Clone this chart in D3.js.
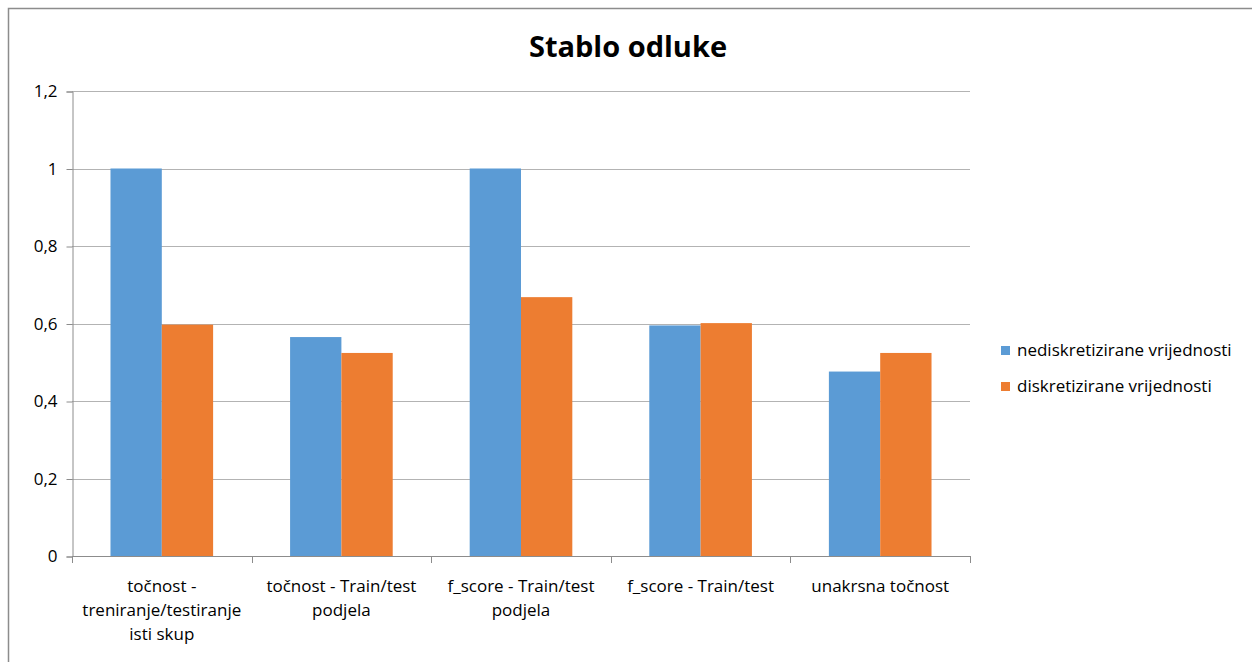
<!DOCTYPE html>
<html>
<head>
<meta charset="utf-8">
<script src="https://cdn.jsdelivr.net/npm/d3@7"></script>
<style>
  body { margin: 0; background: #fff; }
  svg text { font-family: "Open Sans", sans-serif; fill: #000; }
</style>
</head>
<body>
<svg id="chart"></svg>
<script>
// chart data
const categories = [
  ["točnost -", "treniranje/testiranje", "isti skup"],
  ["točnost - Train/test", "podjela"],
  ["f_score - Train/test", "podjela"],
  ["f_score - Train/test"],
  ["unakrsna točnost"]
];
const seriesNames = ["nediskretizirane vrijednosti", "diskretizirane vrijednosti"];
const nediskretizirane = [1.0, 0.565, 1.0, 0.595, 0.476];
const diskretizirane = [0.597, 0.524, 0.668, 0.601, 0.524];
const yTicks = [0, 0.2, 0.4, 0.6, 0.8, 1, 1.2];
const colors = ["#5b9bd5", "#ed7d31"];

const width = 1252, height = 662;
const plot = { left: 72, right: 970, top: 91, bottom: 556 };

const svg = d3.select('#chart').attr('width', width).attr('height', height);

// outer frame: only top and left edges are visible
svg.append('path')
   .attr('d', `M8.5,${height} V8.5 H${width}`)
   .attr('fill', 'none').attr('stroke', '#8c8c8c').attr('stroke-width', 1.5);

svg.append('text')
   .attr('x', 628).attr('y', 57)
   .attr('text-anchor', 'middle')
   .style('font-size', '29px').style('font-weight', 'bold')
   .text('Stablo odluke');

let y = d3.scaleLinear().domain([0, 1.2]).range([plot.bottom, plot.top]);
let x0 = d3.scaleBand().domain(d3.range(categories.length)).range([plot.left, plot.right]);
// excel gap width 150% -> 2 bars + 1.5 bar = band
let barW = x0.bandwidth() / 3.5;

// gridlines
svg.append('g').selectAll('line')
   .data(yTicks.filter(t => t > 0))
   .enter().append('line')
   .attr('x1', plot.left).attr('x2', plot.right)
   .attr('y1', d => Math.round(y(d)) + 0.5).attr('y2', d => Math.round(y(d)) + 0.5)
   .attr('stroke', '#b3b3b3').attr('stroke-width', 1);

// y axis
let yAxis = svg.append('g')
   .attr('transform', `translate(${plot.left + 0.5},0.5)`)
   .call(d3.axisLeft(y).tickValues(yTicks).tickSize(6).tickPadding(9)
          .tickFormat(d => String(d).replace('.', ',')));
yAxis.select('.domain').attr('stroke', '#8c8c8c');
yAxis.selectAll('.tick line').attr('stroke', '#8c8c8c');
yAxis.selectAll('.tick text').style('font-size', '17px').attr('fill', '#000');

// bars
const series = [nediskretizirane, diskretizirane];
series.forEach((vals, s) => {
  svg.append('g').selectAll('rect')
     .data(vals)
     .enter().append('rect')
     .attr('x', (d, i) => x0(i) + x0.bandwidth() / 2 - barW + s * barW)
     .attr('y', d => y(d))
     .attr('width', barW)
     .attr('height', d => y(0) - y(d))
     .attr('fill', colors[s]);
});

// x axis line + category ticks between bands
svg.append('line')
   .attr('x1', plot.left).attr('x2', plot.right)
   .attr('y1', plot.bottom + 0.5).attr('y2', plot.bottom + 0.5)
   .attr('stroke', '#8c8c8c');
svg.append('g').selectAll('line')
   .data(d3.range(categories.length + 1))
   .enter().append('line')
   .attr('x1', i => Math.round(plot.left + i * x0.bandwidth()) + 0.5)
   .attr('x2', i => Math.round(plot.left + i * x0.bandwidth()) + 0.5)
   .attr('y1', plot.bottom).attr('y2', plot.bottom + 7)
   .attr('stroke', '#8c8c8c');

// category labels
let labels = svg.append('g').selectAll('text')
   .data(categories)
   .enter().append('text')
   .attr('text-anchor', 'middle')
   .style('font-size', '17px');
labels.each(function (lines, i) {
  d3.select(this).selectAll('tspan')
    .data(lines)
    .enter().append('tspan')
    .attr('x', x0(i) + x0.bandwidth() / 2)
    .attr('y', (d, k) => 592 + k * 24)
    .text(d => d);
});

// legend
let legend = svg.append('g').selectAll('g')
   .data(seriesNames)
   .enter().append('g')
   .attr('transform', (d, i) => `translate(1001,${346 + i * 36})`);
legend.append('rect').attr('width', 9).attr('height', 9).attr('fill', (d, i) => colors[i]);
legend.append('text').attr('x', 16).attr('y', 10).style('font-size', '17px').text(d => d);
</script>
</body>
</html>
